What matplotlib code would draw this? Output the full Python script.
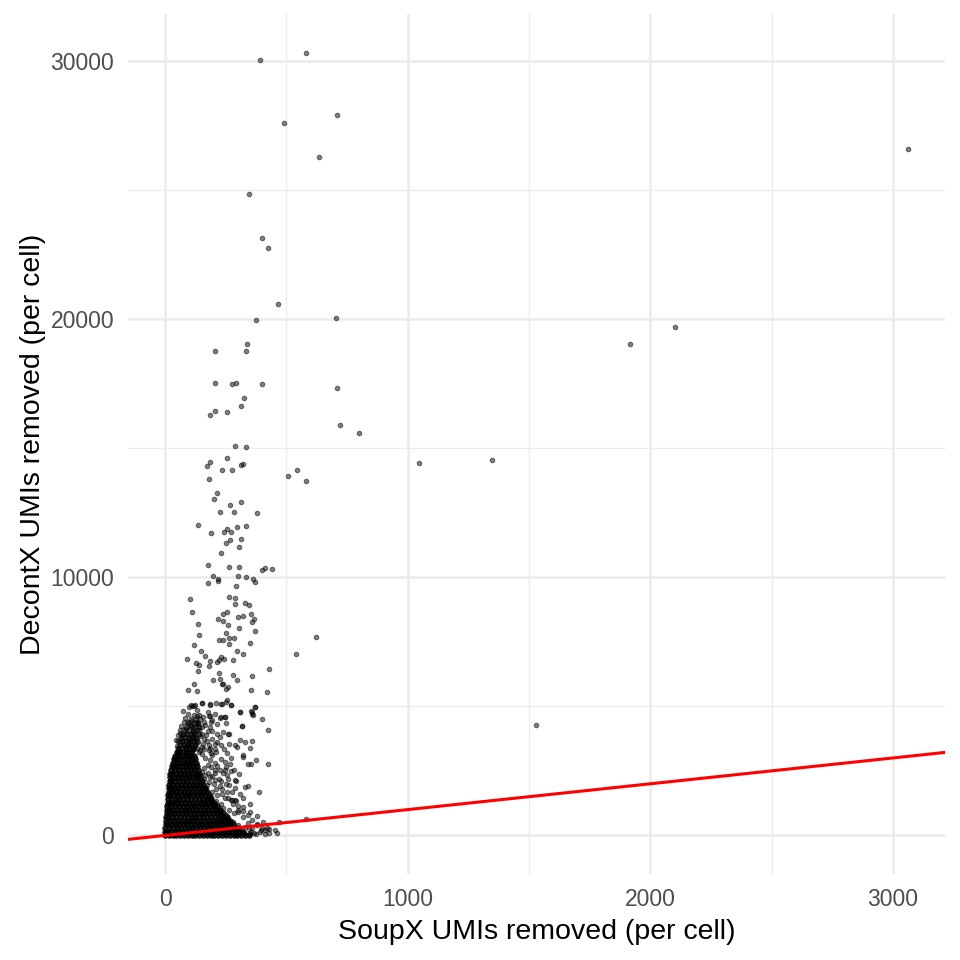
import matplotlib
matplotlib.use("Agg")
import matplotlib.pyplot as plt
from matplotlib.ticker import FixedLocator
import numpy as np

# ---------------- data (SoupX UMIs removed, DecontX UMIs removed) ----------------
# isolated high cells
high_cells = [
    (3062, 26590), (1918, 19043), (2104, 19678), (1529, 4283), (1047, 14419), (1349, 14523),
    (722, 15891), (799, 15593), (505, 13915), (544, 14135), (581, 13733), (622, 7674),
    (541, 7028), (442, 10322), (411, 10361), (398, 10271), (429, 6434), (419, 5543),
    (401, 4496), (423, 4083), (390, 30039), (580, 30298), (707, 27919), (490, 27585),
    (635, 26266), (345, 24857), (398, 23151), (426, 22740), (466, 20581), (375, 19950),
    (706, 20027), (710, 17337), (338, 19019), (334, 18772), (207, 18772), (207, 17531),
    (277, 17492), (292, 17531), (400, 17469), (327, 16950), (314, 16640), (206, 16446),
    (184, 16266), (254, 16395), (288, 15089), (333, 15027), (255, 14612), (184, 14457),
    (173, 14314), (234, 14159), (276, 14159), (314, 14329), (323, 14391), (179, 13798),
    (213, 13268), (203, 13035), (269, 12779), (313, 12919), (227, 12508), (284, 12508),
    (379, 12469), (135, 12028), (188, 11694), (244, 11756), (253, 11849), (272, 11744),
    (297, 11938), (335, 11989), (249, 11337), (267, 11434), (312, 11486), (306, 11189),
    (229, 10943), (176, 10465), (265, 10414), (306, 10414), (199, 10039), (216, 9934),
    (301, 10050), (333, 10000), (364, 9948), (176, 9794), (218, 9857), (370, 9818),
    (293, 9663),
]

# cells between 2,000 and 10,000 DecontX UMIs
mid_cells = [
    (217, 8398), (238, 8295), (258, 8140), (240, 8566), (257, 8656), (265, 9238), (286, 9199),
    (287, 8954), (331, 9005), (345, 8941), (352, 8566), (301, 8463), (320, 8489), (368, 8398),
    (359, 8256), (372, 7907), (305, 8023), (250, 7842), (240, 7584), (265, 7649), (283, 7649),
    (264, 7403), (221, 7558), (348, 7442), (297, 7158), (323, 7016), (278, 6783), (243, 6822),
    (229, 6912), (213, 6718), (224, 6809), (184, 6770), (180, 6550), (220, 6292), (228, 6072),
    (235, 5879), (239, 5853), (251, 5685), (261, 5737), (280, 6227), (295, 6034), (359, 6189),
    (352, 5646), (253, 5258), (271, 5065), (231, 5091), (308, 4793), (353, 4806), (357, 4716),
    (372, 4987), (231, 4574), (245, 4600), (250, 4341), (315, 4238), (185, 4625), (188, 4380),
    (264, 3915), (330, 3618), (359, 3643), (264, 3553), (298, 3437), (323, 3049), (341, 2752),
    (356, 2752), (375, 2933), (426, 2752), (306, 2390), (291, 2093), (288, 1822), (342, 1899),
    (385, 1680), (272, 1382), (293, 1330), (299, 995), (323, 943), (348, 917), (378, 736),
    (404, 530), (420, 284), (452, 194), (470, 530), (581, 646),
    (102, 9147), (112, 8655), (137, 8190), (139, 7752), (121, 7376), (91, 6849), (148, 7159),
    (165, 6950), (129, 6678), (140, 6616), (136, 6357), (197, 6035), (117, 5880), (94, 5647),
    (133, 5581), (111, 5027), (121, 5027), (151, 5128), (187, 5066),
    (107, 5039), (124, 5052), (151, 5130), (183, 5078), (209, 5130), (234, 5078), (251, 5168),
    (272, 5052), (371, 4975), (309, 4794), (357, 4781), (364, 4652), (117, 4677), (131, 4613),
    (144, 4522), (158, 4587), (179, 4613), (192, 4484), (227, 4561), (245, 4587), (110, 4432),
    (96, 4393), (103, 4264), (137, 4303), (165, 4264), (186, 4199), (213, 4303), (176, 4044),
    (124, 3967), (62, 4070), (69, 3876), (90, 3941), (151, 3941), (213, 3941), (261, 3941),
    (316, 4225), (350, 3398), (309, 3708), (289, 3489), (213, 3618), (204, 3360), (241, 3360),
    (96, 3553), (82, 3424), (55, 3230), (110, 3295), (41, 2907), (186, 2907), (206, 2804),
    (247, 2843), (268, 2778), (323, 3101), (289, 2132), (330, 1874), (247, 2520), (254, 2326),
    (206, 2520), (220, 2197), (165, 2326), (172, 1938), (234, 1809), (254, 1680), (275, 1357),
    (289, 1357), (345, 233), (327, 90), (368, 90), (380, 388), (412, 194), (430, 258),
]

# cells around the edge of the dense low cluster
edge_cells = [
    (58, 3380), (75, 3520), (92, 3680), (70, 3760), (118, 3450), (135, 3600), (150, 3420),
    (162, 3720), (105, 3820), (128, 3790), (180, 3520), (145, 3300), (88, 4120), (115, 4180),
    (140, 4080), (60, 3620), (50, 3450), (170, 3880), (195, 3740), (120, 3330),
    (150, 3150), (165, 3000), (140, 3250), (175, 2720), (160, 2600), (190, 2650), (150, 2450),
    (175, 2400), (195, 2300), (160, 2200), (180, 2050), (200, 2000), (170, 1800), (195, 1700),
    (215, 1550), (190, 1500), (210, 1350), (230, 1200), (205, 1150), (240, 1050), (225, 900),
    (250, 800), (260, 650), (280, 520), (300, 420), (265, 1000), (245, 1450), (225, 1900),
    (240, 2400), (205, 2150), (215, 2700), (230, 2950), (195, 3100), (180, 3300), (270, 2500),
    (260, 2200), (310, 1600), (300, 1150), (320, 700), (340, 500), (330, 330), (310, 200),
    (360, 300), (355, 150), (390, 120), (375, 60), (300, 60), (280, 250), (265, 360),
    (240, 600), (230, 760), (215, 980), (350, 1200), (320, 1450), (275, 1700), (265, 1950),
    (45, 3700), (52, 3900), (65, 4250), (78, 4400), (85, 3350), (98, 3450), (100, 3600),
    (112, 3700), (125, 3550), (132, 3400), (145, 3850), (155, 3560), (160, 3350), (172, 3640),
    (185, 3400), (190, 3200), (205, 3550), (80, 4560), (95, 4700), (130, 4850), (100, 4980),
    (75, 4800), (160, 4400), (140, 4650), (175, 4780), (205, 4700), (60, 3950), (115, 4000),
    (130, 4400), (150, 4200), (195, 4050), (225, 3800), (240, 4000), (85, 3150), (48, 3100),
    (210, 3250), (230, 3500), (255, 3200), (270, 3000), (250, 2650), (285, 2550), (225, 2550),
    (205, 2400), (185, 2250), (230, 2100), (250, 2000), (210, 1800), (235, 1600), (260, 1450),
    (280, 1200), (300, 900), (285, 850), (320, 1100), (340, 800), (360, 600), (380, 450),
    (400, 300), (430, 100), (410, 60), (460, 80), (395, 200), (350, 50),
]

# crowded cells just above the solid part of the low cluster
cap_cells = [
    (55, 3370), (71, 3390), (86, 3360), (101, 3380), (113, 3365),
    (61, 3510), (76, 3525), (93, 3500), (108, 3520), (123, 3505),
    (53, 3650), (69, 3660), (86, 3640), (101, 3655), (117, 3645), (131, 3660),
    (65, 3790), (81, 3800), (97, 3780), (113, 3795), (129, 3785),
    (73, 3930), (89, 3945), (105, 3920), (121, 3935), (139, 3925),
    (79, 4070), (97, 4085), (113, 4060), (131, 4075),
    (86, 4210), (105, 4225), (123, 4200), (141, 4215),
    (96, 4350), (117, 4360), (137, 4345),
    (107, 4490), (129, 4500),
]

# dense low cluster, read row by row (DecontX level, SoupX values)
core_levels = [20, 150, 290, 430, 570, 710, 850, 990, 1130, 1270, 1410, 1550,
               1690, 1830, 1970, 2110, 2250, 2390, 2530, 2670, 2810, 2950, 3090, 3230]
core_rows = [
    [0, 15, 31, 46, 62, 77, 94, 109, 125, 140, 156, 172, 188, 203, 219, 235, 250, 266, 282, 297, 313, 329, 345],
    [0, 8, 24, 40, 55, 71, 87, 103, 118, 134, 150, 166, 181, 197, 213, 229, 244, 260, 276, 292, 306, 320],
    [1, 17, 33, 49, 65, 81, 97, 112, 128, 144, 160, 176, 191, 207, 223, 239, 255, 270, 286, 300],
    [3, 11, 27, 43, 59, 75, 91, 106, 122, 138, 154, 170, 186, 201, 217, 233, 249, 264, 280],
    [4, 20, 36, 52, 68, 84, 100, 116, 132, 148, 164, 180, 196, 212, 228, 244, 258, 268],
    [5, 13, 29, 45, 61, 77, 93, 109, 125, 141, 157, 173, 189, 205, 221, 237, 255],
    [6, 22, 38, 54, 70, 86, 102, 118, 134, 150, 166, 182, 198, 214, 228, 240],
    [8, 16, 32, 48, 64, 80, 96, 112, 128, 144, 160, 176, 192, 208, 225],
    [9, 25, 41, 57, 73, 89, 105, 121, 137, 153, 169, 185, 200, 212],
    [10, 18, 34, 50, 66, 82, 98, 114, 130, 146, 162, 178, 194, 200],
    [11, 27, 43, 59, 75, 91, 107, 123, 139, 155, 171, 184, 190],
    [12, 20, 36, 52, 68, 84, 100, 116, 132, 148, 164, 180],
    [14, 30, 46, 62, 78, 94, 110, 126, 142, 158, 172],
    [15, 23, 39, 55, 71, 87, 103, 119, 135, 151, 165],
    [17, 33, 49, 65, 81, 97, 113, 129, 145, 158],
    [18, 26, 42, 58, 74, 90, 106, 122, 138, 150],
    [20, 36, 52, 68, 84, 100, 116, 132, 145],
    [22, 30, 46, 62, 78, 94, 110, 126, 140],
    [25, 41, 57, 73, 89, 105, 121, 136],
    [28, 36, 52, 68, 84, 100, 116, 132],
    [32, 48, 64, 80, 96, 112, 128],
    [37, 45, 61, 77, 93, 109, 124],
    [42, 58, 74, 90, 106, 118],
    [50, 58, 74, 90, 106],
]

x_ticks = [0, 1000, 2000, 3000]
y_ticks = [0, 10000, 20000, 30000]
x_label = "SoupX UMIs removed (per cell)"
y_label = "DecontX UMIs removed (per cell)"

# ---------------- figure ----------------
plt.rcParams['font.family'] = ['Liberation Sans', 'DejaVu Sans']

fig = plt.figure(figsize=(9.6, 9.6), dpi=100)
ax = fig.add_axes([128 / 960, 86 / 960, 817 / 960, 860 / 960])

sparse = np.array(high_cells + mid_cells + edge_cells, dtype=float)
cap = np.array(cap_cells, dtype=float)
core_x = np.array([x for row in core_rows for x in row], dtype=float)
core_y = np.array([lvl for lvl, row in zip(core_levels, core_rows) for _ in row], dtype=float)

all_x = np.concatenate([sparse[:, 0], cap[:, 0], core_x])
all_y = np.concatenate([sparse[:, 1], cap[:, 1], core_y])
xr = all_x.max() - all_x.min()
yr = all_y.max() - all_y.min()
ax.set_xlim(all_x.min() - 0.05 * xr, all_x.max() + 0.05 * xr)
ax.set_ylim(all_y.min() - 0.05 * yr, all_y.max() + 0.05 * yr)

ax.set_facecolor('white')
for s in ax.spines.values():
    s.set_visible(False)

ax.xaxis.set_major_locator(FixedLocator(x_ticks))
ax.yaxis.set_major_locator(FixedLocator(y_ticks))
ax.xaxis.set_minor_locator(FixedLocator([500, 1500, 2500]))
ax.yaxis.set_minor_locator(FixedLocator([5000, 15000, 25000]))
ax.grid(which='major', color='#EBEBEB', linewidth=1.8)
ax.grid(which='minor', color='#EBEBEB', linewidth=0.9)
ax.set_axisbelow(True)
ax.tick_params(which='both', length=0)
ax.tick_params(axis='x', pad=10, labelsize=16.5, labelcolor='#4D4D4D')
ax.tick_params(axis='y', pad=10, labelsize=16.5, labelcolor='#4D4D4D')

ax.scatter(core_x, core_y, s=16, c='black', alpha=0.85, linewidths=0.6,
           edgecolors='black', zorder=2)
ax.scatter(cap[:, 0], cap[:, 1], s=14, c='black', alpha=0.6, linewidths=0.6,
           edgecolors='black', zorder=2)
ax.scatter(sparse[:, 0], sparse[:, 1], s=11, c='black', alpha=0.5, linewidths=0.7,
           edgecolors='black', zorder=3)

ax.axline((0, 0), slope=1, color='red', linewidth=2.2, zorder=4)

ax.set_xlabel(x_label, fontsize=20.5, color='black', labelpad=6)
ax.set_ylabel(y_label, fontsize=20.5, color='black', labelpad=3)

fig.savefig('out.png', dpi=100, facecolor='white')
